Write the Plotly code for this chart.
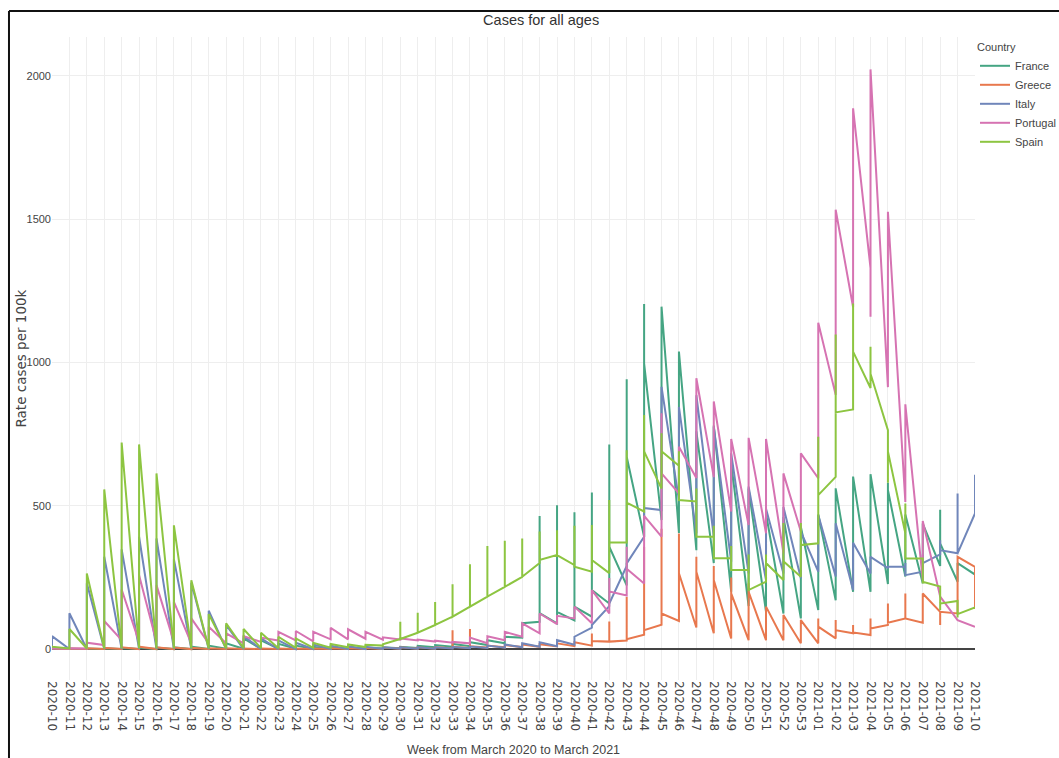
import plotly.graph_objects as go

# ISO weeks shown on the category axis
weeks = [
    "2020-10", "2020-11", "2020-12", "2020-13", "2020-14", "2020-15", "2020-16", "2020-17",
    "2020-18", "2020-19", "2020-20", "2020-21", "2020-22", "2020-23", "2020-24", "2020-25",
    "2020-26", "2020-27", "2020-28", "2020-29", "2020-30", "2020-31", "2020-32", "2020-33",
    "2020-34", "2020-35", "2020-36", "2020-37", "2020-38", "2020-39", "2020-40", "2020-41",
    "2020-42", "2020-43", "2020-44", "2020-45", "2020-46", "2020-47", "2020-48", "2020-49",
    "2020-50", "2020-51", "2020-52", "2020-53", "2021-01", "2021-02", "2021-03", "2021-04",
    "2021-05", "2021-06", "2021-07", "2021-08", "2021-09", "2021-10",
]

# Rate of cases per 100k, several age-group rows per week, in row order
france = [
    [0, 1], [0, 1], [0, 2], [0, 3], [0, 4], [0, 5], [0, 5], [0, 6], [0, 8], [0, 12],
    [1, 20], [1, 37], [1, 30], [1, 18], [1, 12], [1, 8], [1, 6], [1, 5], [2, 5], [2, 6],
    [3, 8], [4, 11], [6, 14], [8, 18], [10, 24], [14, 31], [20, 43], [40, 90, 90],
    [95, 464, 125], [90, 502, 130], [100, 477, 148], [113, 546, 206], [159, 714, 357],
    [222, 942, 671], [392, 1204, 997], [450, 1195], [405, 1038], [345, 760], [300, 780],
    [200, 650], [150, 560], [130, 473], [124, 461], [107, 427], [136, 470], [170, 561],
    [200, 602], [200, 610], [227, 580, 555], [253, 470], [230, 438], [290, 486, 369],
    [235, 300], [260, 260],
]
greece = [
    [0, 2], [0, 2], [0, 3], [0, 4], [0, 6], [0, 8], [0, 6], [0, 5], [0, 4], [0, 3],
    [0, 3], [0, 2], [0, 2], [0, 2], [0, 2], [0, 2], [0, 3], [0, 3], [0, 4], [0, 5],
    [1, 6], [1, 6], [1, 7], [3, 66, 8], [4, 70, 10], [5, 12], [6, 14], [7, 16], [8, 17],
    [9, 20], [10, 24], [12, 54, 28], [26, 96, 26], [30, 182, 34], [50, 357, 66],
    [85, 420, 124], [98, 403, 264], [75, 322, 270], [55, 290, 241], [37, 250, 194],
    [31, 230, 200], [31, 148], [31, 119], [20, 101], [20, 107, 78], [37, 101, 66],
    [55, 84, 58], [49, 107, 72], [84, 159, 92], [107, 194, 107], [92, 194],
    [130, 84, 130], [124, 322], [287, 140],
]
italy = [
    [0, 45], [0, 125], [0, 230], [0, 322], [0, 348], [0, 392], [0, 386], [0, 313], [0, 231],
    [0, 134], [0, 84], [0, 45], [0, 37], [0, 30], [0, 22], [0, 16], [0, 12], [0, 10], [0, 8],
    [1, 6], [1, 6], [1, 6], [1, 6], [2, 7], [3, 9], [4, 12], [5, 16], [6, 20], [8, 24],
    [10, 31], [15, 43], [75, 84], [150, 159], [290, 299], [392, 499, 492], [485, 915],
    [520, 845], [404, 886], [392, 776], [305, 683], [264, 567], [241, 497, 490],
    [264, 496], [247, 430, 410], [270, 468], [253, 439], [206, 371], [264, 322],
    [282, 287], [287, 300, 258], [270, 330, 300], [330, 380, 345], [334, 543, 334],
    [473, 608, 473],
]
portugal = [
    [0, 2], [1, 3], [2, 22], [14, 98], [31, 208], [25, 258], [25, 223], [25, 165], [20, 107],
    [20, 78], [20, 55], [20, 45], [25, 40], [30, 60], [30, 63], [27, 60], [34, 74], [34, 69],
    [36, 60], [33, 41], [33, 37], [30, 33], [26, 29], [22, 25], [20, 40], [20, 45], [31, 60],
    [43, 90], [55, 124], [87, 116], [107, 148], [90, 206], [124, 248, 201], [187, 357, 280],
    [229, 465], [392, 823, 613], [543, 706], [597, 945], [600, 864], [480, 733], [433, 737],
    [404, 733], [334, 613], [410, 683], [596, 1139], [887, 1533], [1193, 1887],
    [1329, 1160, 2023], [914, 1526], [513, 854], [240, 447], [183, 183], [101, 101],
    [78, 78],
]
spain = [
    [12, 8], [2, 70], [2, 264], [2, 557], [2, 721], [2, 714], [2, 613], [2, 432], [2, 240],
    [2, 122], [2, 90], [3, 70], [3, 57], [3, 43], [4, 37], [4, 22], [5, 18], [6, 16], [7, 15],
    [12, 17], [35, 95, 35], [57, 127, 57], [84, 164, 84], [113, 226, 113], [148, 296, 148],
    [183, 360, 183], [217, 378, 217], [252, 386, 252], [300, 410, 311], [328, 415, 328],
    [293, 430, 287], [270, 433, 311], [265, 520, 372], [372, 694, 511], [480, 817, 690],
    [560, 753, 690], [640, 690, 520], [515, 560, 392], [392, 430, 317], [317, 360, 276],
    [276, 330, 206], [235, 330, 300], [241, 440, 306], [252, 440, 363], [369, 741, 537],
    [601, 1098, 826], [836, 1206, 1038], [911, 1055, 961], [764, 580, 690], [404, 508, 316],
    [316, 229, 235], [218, 136, 159], [168, 110, 122], [145, 145],
]

countries = ["France", "Greece", "Italy", "Portugal", "Spain"]
series = [france, greece, italy, portugal, spain]
colors = ["#45a583", "#e8784e", "#7086ba", "#d673b2", "#8dc541"]

sans = "Liberation Sans, Arial, sans-serif"
wide = "DejaVu Sans, Verdana, sans-serif"


def rows(per_week):
    xs, ys = [], []
    for wk, vals in zip(weeks, per_week):
        for v in vals:
            xs.append(wk)
            ys.append(v)
    return xs, ys


fig = go.Figure()
for name, data, col in zip(countries, series, colors):
    xs, ys = rows(data)
    fig.add_trace(go.Scatter(
        x=xs, y=ys, mode="lines", name=name,
        line=dict(color=col, width=2),
    ))

fig.update_layout(
    template="none",
    width=1059, height=758,
    margin=dict(l=52, r=84, t=37, b=78, autoexpand=False),
    paper_bgcolor="white", plot_bgcolor="white",
    font=dict(family=sans, size=11, color="#444"),
    title=dict(text="Cases for all ages", x=0.511, xref="container", xanchor="center",
               y=0.974, yref="container", yanchor="middle",
               font=dict(family=sans, size=14.5, color="#333")),
    legend=dict(title=dict(text="Country", font=dict(family=sans, size=11)),
                x=1.0, xanchor="left", y=1, yanchor="top",
                font=dict(family=sans, size=11)),
    showlegend=True,
)
fig.update_xaxes(
    type="category", categoryorder="array", categoryarray=weeks,
    range=[0, len(weeks) - 1],
    tickmode="array", tickvals=weeks, ticktext=weeks,
    tickangle=90, tickfont=dict(family=wide, size=12, color="#444"),
    showgrid=True, gridcolor="#eee", automargin=False,
)
fig.update_yaxes(
    range=[-108, 2136], tickvals=[0, 500, 1000, 1500, 2000],
    tickfont=dict(family=sans, size=11, color="#444"),
    showgrid=True, gridcolor="#eee",
    zeroline=True, zerolinecolor="#444", zerolinewidth=1.5, automargin=False,
)

# Axis titles
fig.add_annotation(text="Week from March 2020 to March 2021", xref="paper", yref="paper",
                   x=0.5, y=-0.1089, xanchor="center", yanchor="middle", showarrow=False,
                   font=dict(family=sans, size=12.5, color="#444"))
fig.add_annotation(text="Rate cases per 100k", xref="paper", yref="paper",
                   x=-0.0336, y=0.5, xanchor="center", yanchor="middle", showarrow=False,
                   textangle=-90, font=dict(family=wide, size=13.5, color="#444"))

# Frame drawn around the figure (left and top edges visible)
fig.add_shape(type="line", xref="paper", yref="paper", x0=-0.0466, x1=-0.0466,
              y0=-0.3, y1=1.0404, line=dict(color="#111", width=2), layer="above")
fig.add_shape(type="line", xref="paper", yref="paper", x0=-0.0466, x1=1.3,
              y0=1.0404, y1=1.0404, line=dict(color="#111", width=2), layer="above")

fig.write_html("out.html")
